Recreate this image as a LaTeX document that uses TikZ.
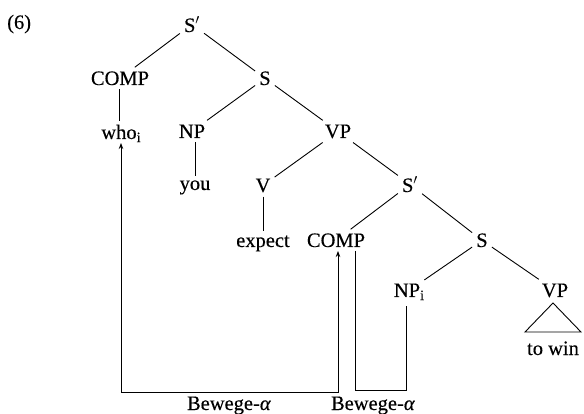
\documentclass[tikz,border=0pt]{standalone}
\usepackage{fontspec}
\setmainfont{Liberation Serif}[FakeBold=0.3]
\usetikzlibrary{arrows.meta}
\begin{document}
\begin{tikzpicture}[x=1pt,y=-1pt,
  lab/.style={font=\fontsize{20.5}{23}\selectfont, inner sep=4pt, anchor=base},
  edge/.style={line width=0.9pt},
  move/.style={line width=0.9pt},
  arr/.style={{Stealth[length=6pt,width=4.5pt]}-{Stealth[length=6pt,width=4.5pt]}}]
\useasboundingbox (0,0) rectangle (584,414);
\node[lab, anchor=base west, inner sep=0pt] (num) at (7,29) {(6)};
\node[lab] (sbar1) at (192,32) {S$'$};
\node[lab] (comp1) at (120,85) {COMP};
\node[lab] (s1) at (265,85) {S};
\node[lab] (who) at (119,139) {who\rlap{$_{\mathrm{i}}$}};
\node[lab] (np1) at (192,138) {NP};
\node[lab] (vp1) at (338,138) {VP};
\node[lab] (you) at (195,190) {you};
\node[lab] (v) at (263,192) {V};
\node[lab] (sbar2) at (410,192) {S$'$};
\node[lab] (expect) at (263,247) {expect};
\node[lab] (comp2) at (336,247) {COMP};
\node[lab] (s2) at (482,247) {S};
\node[lab] (npi) at (407,297) {NP\rlap{$_{\mathrm{i}}$}};
\node[lab] (vp2) at (555,297) {VP};
\node[lab] (towin) at (553,355) {to win};
\node[lab] (bew1) at (229,410) {Bewege-\textit{α}};
\node[lab] (bew2) at (373,410) {Bewege-\textit{α}};
% tree edges
\draw[edge] (sbar1) -- (comp1);
\draw[edge] (sbar1) -- (s1);
\draw[edge] (comp1.south -| who) -- (who.north);
\draw[edge] (s1) -- (np1);
\draw[edge] (s1) -- (vp1);
\draw[edge] (you |- np1.south) -- (you);
\draw[edge] (vp1) -- (v);
\draw[edge] (vp1) -- (sbar2);
\draw[edge] (v) -- (v |- expect.north);
\draw[edge] (sbar2) -- (comp2);
\draw[edge] (sbar2) -- (s2);
\draw[edge] (s2) -- (npi);
\draw[edge] (s2) -- (vp2);
% triangle
\coordinate (tapex) at (553,303);
\coordinate (tl) at (525,332);
\coordinate (tr) at (581,332);
\draw[edge, line join=miter] (tapex) -- (tl) -- (tr) -- cycle;
% movement lines
\coordinate (a1) at (121,143);
\coordinate (a2) at (121,392);
\coordinate (a3) at (338,392);
\coordinate (a4) at (338,251);
\draw[move, arr] (a1) -- (a2) -- (a3) -- (a4);
\coordinate (b1) at (355,251);
\coordinate (b2) at (355,390);
\coordinate (b3) at (406,390);
\coordinate (b4) at (406,306);
\draw[move] (b1) -- (b2) -- (b3) -- (b4);
\end{tikzpicture}
\end{document}
